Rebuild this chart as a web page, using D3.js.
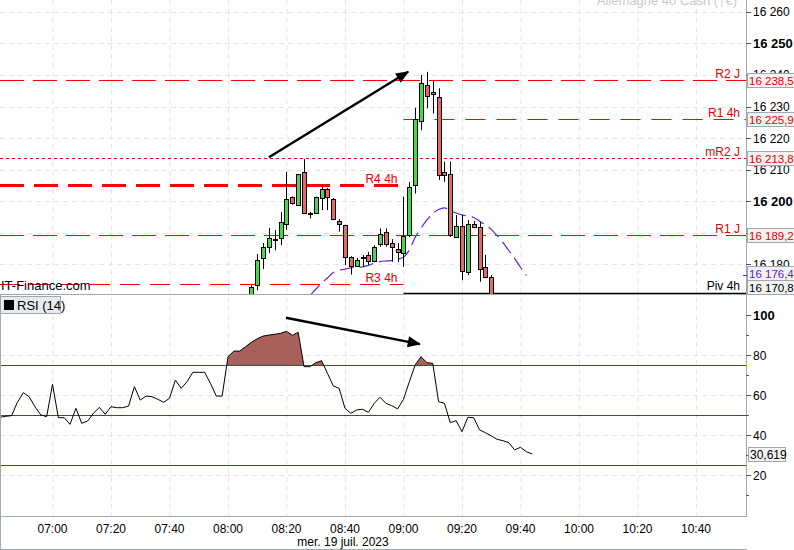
<!DOCTYPE html>
<html>
<head>
<meta charset="utf-8">
<script src="https://cdn.jsdelivr.net/npm/d3@7"></script>
<style>
  html, body { margin: 0; padding: 0; background: #fff; }
  svg { display: block; font-family: "Liberation Sans", Arial, sans-serif; }
</style>
</head>
<body>
<svg id="chart" width="794" height="550"></svg>
<script>
// --- data ---
const day = (h, m) => new Date(2023, 6, 19, h, m);

// 2-minute candles, first one at 08:08 (earlier ones sit below the visible range)
const candleStart = day(8, 8);
const candleOpen  = [16168.0,16173.3,16181.9,16185.4,16188.0,16188.2,16192.7,16201.2,16198.7,16209.1,
                     16196.2,16196.1,16201.2,16203.7,16200.5,16193.7,16192.3,16182.1,16179.4,16182.2,
                     16182.8,16181.1,16186.3,16190.1,16186.6,16184.8,16183.7,16189.2,16205.1,16225.2,
                     16236.8,16234.5,16233.1,16209.1,16208.5,16188.7,16192.2,16177.6,16192.6,16191.8,
                     16179.1,16175.8];
const candleHigh  = [16173.3,16183.2,16186.7,16191.5,16190.8,16196.5,16209.3,16201.5,16208.6,16213.3,
                     16196.6,16201.4,16204.4,16204.1,16201.0,16194.3,16192.5,16182.5,16181.9,16182.9,
                     16183.9,16186.0,16191.3,16191.3,16187.9,16186.7,16201.4,16206.0,16229.6,16240.0,
                     16241.0,16238.1,16235.8,16212.5,16212.5,16195.6,16195.6,16194.0,16193.7,16193.4,
                     16182.9,16176.5];
const candleLow   = [16166.0,16171.7,16178.4,16183.5,16184.4,16186.0,16190.8,16198.8,16198.5,16196.0,
                     16194.5,16195.9,16197.1,16197.1,16194.0,16190.3,16179.7,16176.7,16179.2,16179.1,
                     16179.7,16180.6,16185.5,16185.5,16180.7,16180.7,16179.1,16188.6,16202.4,16222.5,
                     16229.4,16227.8,16206.7,16206.1,16188.6,16188.4,16174.9,16176.5,16191.4,16174.4,
                     16175.5,16165.0];
const candleClose = [16172.6,16181.3,16185.5,16188.3,16187.9,16193.2,16200.5,16199.3,16208.5,16196.1,
                     16196.1,16201.2,16203.9,16201.2,16194.2,16192.7,16182.1,16179.4,16181.3,16182.1,
                     16181.0,16185.5,16189.5,16186.3,16185.3,16183.7,16189.0,16204.5,16226.0,16237.4,
                     16233.3,16233.9,16208.5,16208.3,16189.0,16192.2,16177.9,16192.7,16191.6,16178.6,
                     16176.0,16168.0];

// purple moving average, one point per candle from 08:28
const maStart = day(8, 28);
const maValues = [16170.0,16172.0,16174.0,16175.6,16177.3,16178.0,16178.4,16178.8,16179.0,16179.1,
                  16179.6,16180.3,16180.8,16181.0,16181.1,16181.6,16182.2,16184.5,16188.5,16191.4,
                  16194.0,16196.0,16197.3,16197.8,16197.0,16196.2,16195.6,16195.2,16194.8,16193.6,
                  16192.4,16191.0,16189.0,16186.8,16184.3,16181.8,16179.0,16176.4];

// RSI (14), every 2 minutes from 06:42
const rsiStart = day(6, 42);
const rsiValues = [49.0,49.5,49.8,56.5,61.3,59.3,54.3,50.2,49.3,65.5,
                   48.8,48.8,45.5,53.5,46.0,47.1,51.0,54.0,50.5,54.3,
                   53.8,53.8,54.6,64.3,57.6,59.6,59.3,58.0,56.5,58.5,
                   67.6,63.5,66.8,71.5,71.5,71.5,66.0,59.6,59.6,79.3,
                   82.1,82.1,84.3,86.5,88.3,89.6,90.1,90.5,91.0,92.0,
                   90.0,91.5,74.3,74.3,76.3,77.3,71.0,64.7,63.5,53.5,
                   51.0,52.7,53.0,51.5,56.0,59.0,56.0,54.8,53.2,58.0,
                   66.8,75.2,79.3,76.3,76.0,56.8,56.0,46.3,47.3,41.8,
                   49.0,48.8,42.7,41.3,39.7,38.0,37.3,36.3,32.7,34.0,
                   31.8,30.619];
const rsiLevels = [75, 50, 25];

// pivot levels (null = pane edge)
const levelNames  = ['R2 J', 'R1 4h', 'mR2 J', 'R4 4h', 'R1 J', 'R3 4h', 'Piv 4h'];
const levelValues = [16238.5, 16225.9, 16213.8, 16205.0, 16189.2, 16173.6, 16170.8];
const levelFrom   = [null, day(9, 0), null, null, null, null, day(9, 0)];
const levelTo     = [null, null, null, day(9, 0), null, day(9, 0), null];

const priceTicks = d3.range(16170, 16261, 10);
const rsiTicks = d3.range(10, 101, 10);
const dateLabel = 'mer. 19 juil. 2023';
const title = 'Allemagne 40 Cash (†€)';

// --- layout ---
const axisX = 746;
const priceBottom = 294;
const rsiTop = 295, rsiBottom = 516;
const STEP = 2 * 60000;
const grey = '#a0a8b0';

const t0 = +day(7, 0);
const x = d3.scaleTime()
  .domain([new Date(t0 - 17.95 * 60000), new Date(t0 + 237.1 * 60000)])
  .range([0, axisX]);
const yP = d3.scaleLinear().domain([16170.5, 16263.8]).range([priceBottom, 0]);
const yR = d3.scaleLinear().domain([0, 110]).range([515.3, 295.3]);

const svg = d3.select('#chart');
const fmtPrice = v => d3.format(',.1f')(v).replace(',', ' ').replace('.', ',');
const fmtTick = v => d3.format(',')(v).replace(',', ' ');

const defs = svg.append('defs');
defs.append('clipPath').attr('id', 'clipP')
  .append('rect').attr('x', 0).attr('y', 0).attr('width', axisX).attr('height', priceBottom);
defs.append('clipPath').attr('id', 'clipR')
  .append('rect').attr('x', 0).attr('y', rsiTop).attr('width', axisX).attr('height', rsiBottom - rsiTop);
defs.append('clipPath').attr('id', 'clipOB')
  .append('rect').attr('x', 0).attr('y', rsiTop).attr('width', axisX).attr('height', yR(75) - rsiTop);
defs.append('marker').attr('id', 'arrow')
  .attr('viewBox', '0 0 12 10').attr('refX', 11).attr('refY', 5)
  .attr('markerWidth', 14).attr('markerHeight', 11).attr('markerUnits', 'userSpaceOnUse')
  .attr('orient', 'auto')
  .append('path').attr('d', 'M0,0 L12,5 L0,10 Z').attr('fill', '#000');

// --- grid ---
const timeTicks = x.ticks(d3.timeMinute.every(20));
svg.append('g').selectAll('line').data(timeTicks).enter().append('line')
  .attr('x1', d => x(d) + 0.5).attr('x2', d => x(d) + 0.5)
  .attr('y1', 0).attr('y2', rsiBottom)
  .attr('stroke', '#e4e4e4').attr('stroke-dasharray', '5,4');
svg.append('g').selectAll('line').data(priceTicks.filter(v => v > 16170)).enter().append('line')
  .attr('x1', 0).attr('x2', axisX)
  .attr('y1', d => Math.round(yP(d)) + 0.5).attr('y2', d => Math.round(yP(d)) + 0.5)
  .attr('stroke', '#e4e4e4').attr('stroke-dasharray', '5,4');
svg.append('g').selectAll('line').data([20, 40, 60, 80]).enter().append('line')
  .attr('x1', 0).attr('x2', axisX)
  .attr('y1', d => Math.round(yR(d)) + 0.5).attr('y2', d => Math.round(yR(d)) + 0.5)
  .attr('stroke', '#e4e4e4').attr('stroke-dasharray', '5,4');

// --- price pane ---
const gP = svg.append('g').attr('clip-path', 'url(#clipP)');

const levelStyle = {
  'R2 J':   { color: '#ff0000', width: 1,   dash: '24,9' },
  'R1 4h':  { color: '#ff0000', width: 1,   dash: '20,11' },
  'mR2 J':  { color: '#ff0000', width: 1,   dash: '3,3' },
  'R4 4h':  { color: '#ff0000', width: 3,   dash: '24,10' },
  'R1 J':   { color: '#ff0000', width: 1,   dash: '24,9' },
  'R3 4h':  { color: '#ff0000', width: 1,   dash: '20,10' },
  'Piv 4h': { color: '#000000', width: 1.5, dash: null }
};
const levels = levelNames.map((n, i) => ({
  name: n, value: levelValues[i],
  x1: levelFrom[i] ? x(levelFrom[i]) : 0,
  x2: levelTo[i] ? x(levelTo[i]) : axisX
}));
gP.append('g').selectAll('line').data(levels).enter().append('line')
  .attr('x1', d => d.x1).attr('x2', d => d.x2)
  .attr('y1', d => Math.round(yP(d.value)) + 0.5).attr('y2', d => Math.round(yP(d.value)) + 0.5)
  .attr('stroke', d => levelStyle[d.name].color)
  .attr('stroke-width', d => levelStyle[d.name].width)
  .attr('stroke-dasharray', d => levelStyle[d.name].dash);
gP.append('g').selectAll('text').data(levels).enter().append('text')
  .attr('x', d => d.x2 - 6)
  .attr('y', d => Math.min(Math.round(yP(d.value)) - 2, priceBottom - 4))
  .attr('text-anchor', 'end').attr('font-size', 12)
  .attr('fill', d => d.name === 'Piv 4h' ? '#000' : '#e00000')
  .text(d => d.name);

// moving average
const maPts = maValues.map((v, i) => [new Date(+maStart + i * STEP), v]);
gP.append('path').datum(maPts)
  .attr('d', d3.line().x(d => x(d[0])).y(d => yP(d[1])).curve(d3.curveMonotoneX))
  .attr('fill', 'none').attr('stroke', '#6420d0').attr('stroke-width', 1.2)
  .attr('stroke-dasharray', '14,6');

// candles
const candles = candleOpen.map((o, i) => ({
  t: new Date(+candleStart + i * STEP), o, h: candleHigh[i], l: candleLow[i], c: candleClose[i]
}));
const cg = gP.append('g').selectAll('g').data(candles).enter().append('g');
cg.append('line')
  .attr('x1', d => Math.round(x(d.t)) + 0.5).attr('x2', d => Math.round(x(d.t)) + 0.5)
  .attr('y1', d => yP(d.h)).attr('y2', d => yP(d.l))
  .attr('stroke', '#000');
cg.append('rect')
  .attr('x', d => Math.round(x(d.t)) - 2 + 0.5)
  .attr('width', 4)
  .attr('y', d => Math.round(yP(Math.max(d.o, d.c))) + 0.5)
  .attr('height', d => Math.max(1, Math.round(Math.abs(yP(d.o) - yP(d.c)))))
  .attr('fill', d => Math.abs(d.o - d.c) < 0.2 ? '#000' : (d.c > d.o ? '#4cd44c' : '#e06a6a'))
  .attr('stroke', '#000').attr('stroke-width', 1);

// arrow in the price pane
svg.append('line')
  .attr('x1', x(day(8, 14))).attr('y1', yP(16213.9))
  .attr('x2', x(new Date(+day(9, 1) + 36000))).attr('y2', yP(16241.0))
  .attr('stroke', '#000').attr('stroke-width', 2.4).attr('marker-end', 'url(#arrow)');

svg.append('text').attr('x', 1).attr('y', 290).attr('font-size', 13).attr('fill', '#000')
  .text('IT-Finance.com');
svg.append('text').attr('x', 737).attr('y', 5).attr('text-anchor', 'end')
  .attr('font-size', 13).attr('fill', '#c8c8c8').text(title);

// --- RSI pane ---
const gR = svg.append('g').attr('clip-path', 'url(#clipR)');
const rsiPts = rsiValues.map((v, i) => [new Date(+rsiStart + i * STEP), v]);
gR.append('path').datum(rsiPts)
  .attr('clip-path', 'url(#clipOB)')
  .attr('d', d3.area().x(d => x(d[0])).y0(yR(75)).y1(d => yR(d[1])))
  .attr('fill', '#a8605c');
gR.append('g').selectAll('line').data(rsiLevels).enter().append('line')
  .attr('x1', 0).attr('x2', axisX)
  .attr('y1', d => Math.round(yR(d)) + 0.5).attr('y2', d => Math.round(yR(d)) + 0.5)
  .attr('stroke', '#3a3ab8').attr('stroke-width', 1.2);
gR.append('path').datum(rsiPts)
  .attr('d', d3.line().x(d => x(d[0])).y(d => yR(d[1])))
  .attr('fill', 'none').attr('stroke', '#000').attr('stroke-width', 1);

svg.append('line')
  .attr('x1', x(new Date(+day(8, 19) + 48000))).attr('y1', yR(98.8))
  .attr('x2', x(new Date(+day(9, 5) + 36000))).attr('y2', yR(85.6))
  .attr('stroke', '#000').attr('stroke-width', 2.4).attr('marker-end', 'url(#arrow)');

const leg = svg.append('g');
leg.append('rect').attr('x', 0.5).attr('y', 296.5).attr('width', 60).attr('height', 17)
  .attr('fill', '#e6ebef').attr('stroke', grey);
leg.append('rect').attr('x', 4).attr('y', 300).attr('width', 10).attr('height', 10).attr('fill', '#000');
leg.append('text').attr('x', 17).attr('y', 310).attr('font-size', 13).text('RSI (14)');

// --- frames ---
const frame = svg.append('g').attr('stroke', grey).attr('fill', 'none');
frame.append('line').attr('x1', 0).attr('x2', axisX).attr('y1', priceBottom + 0.5).attr('y2', priceBottom + 0.5);
frame.append('line').attr('x1', 0).attr('x2', axisX).attr('y1', rsiBottom + 0.5).attr('y2', rsiBottom + 0.5);
frame.append('line').attr('x1', axisX + 0.5).attr('x2', axisX + 0.5).attr('y1', 0).attr('y2', rsiBottom + 1);
frame.append('line').attr('x1', 0.5).attr('x2', 0.5).attr('y1', priceBottom).attr('y2', 550);
frame.append('line').attr('x1', 0).attr('x2', axisX + 1).attr('y1', 549.5).attr('y2', 549.5);

// --- right axes ---
const shownTicks = priceTicks.filter(v => v >= yP.domain()[0]);
const pa = svg.append('g');
pa.selectAll('line').data(shownTicks).enter().append('line')
  .attr('x1', axisX).attr('x2', axisX + 5)
  .attr('y1', d => Math.round(yP(d)) + 0.5).attr('y2', d => Math.round(yP(d)) + 0.5)
  .attr('stroke', '#555');
pa.selectAll('text').data(shownTicks).enter().append('text')
  .attr('x', axisX + 7).attr('y', d => yP(d) + 4.5)
  .attr('font-size', d => d % 50 === 0 ? 13 : 12)
  .attr('font-weight', d => d % 50 === 0 ? 'bold' : 'normal')
  .text(d => fmtTick(d));

const ra = svg.append('g');
ra.selectAll('line').data(rsiTicks).enter().append('line')
  .attr('x1', axisX).attr('x2', d => axisX + (d % 20 === 0 ? 5 : 3))
  .attr('y1', d => Math.round(yR(d)) + 0.5).attr('y2', d => Math.round(yR(d)) + 0.5)
  .attr('stroke', '#555');
ra.selectAll('text').data(rsiTicks.filter(d => d % 20 === 0)).enter().append('text')
  .attr('x', axisX + 7).attr('y', d => yR(d) + 4.5)
  .attr('font-size', d => d === 100 ? 13 : 12)
  .attr('font-weight', d => d === 100 ? 'bold' : 'normal')
  .text(d => d);

// value boxes on the price axis
const boxes = [
  { v: levelValues[0], color: '#e00000' },
  { v: levelValues[1], color: '#e00000' },
  { v: levelValues[2], color: '#e00000' },
  { v: levelValues[4], color: '#e00000' },
  { v: maValues[maValues.length - 1], color: '#6420d0', tick: true },
  { v: levelValues[6], color: '#000' }
];
const bh = 14;
boxes.forEach(b => { b.cy = Math.min(yP(b.v), priceBottom - bh / 2); });
for (let i = boxes.length - 2; i >= 0; i--) {
  if (boxes[i + 1].cy - boxes[i].cy < bh) boxes[i].cy = boxes[i + 1].cy - bh;
}
const bg = svg.append('g').selectAll('g').data(boxes).enter().append('g');
bg.filter(d => d.tick).append('line')
  .attr('x1', axisX - 3).attr('x2', axisX + 2)
  .attr('y1', d => Math.round(yP(d.v)) + 0.5).attr('y2', d => Math.round(yP(d.v)) + 0.5)
  .attr('stroke', d => d.color);
bg.append('rect')
  .attr('x', axisX + 1.5).attr('y', d => Math.round(d.cy - bh / 2) + 0.5)
  .attr('width', 50).attr('height', bh)
  .attr('fill', '#f2f2f2').attr('stroke', grey);
bg.append('text')
  .attr('x', axisX + 3).attr('y', d => Math.round(d.cy) + 4.5)
  .attr('font-size', 11.5).attr('fill', d => d.color)
  .text(d => fmtPrice(d.v));

// RSI value box
const lastR = rsiValues[rsiValues.length - 1];
svg.append('rect').attr('x', axisX + 2.5).attr('y', Math.round(yR(lastR) - 7) + 0.5)
  .attr('width', 37).attr('height', 14).attr('fill', '#f2f2f2').attr('stroke', grey);
svg.append('text').attr('x', axisX + 4).attr('y', Math.round(yR(lastR)) + 5)
  .attr('font-size', 12).text(d3.format('.3f')(lastR).replace('.', ','));

// --- time axis ---
svg.append('g').selectAll('text').data(timeTicks).enter().append('text')
  .attr('x', d => x(d)).attr('y', 533)
  .attr('text-anchor', 'middle')
  .attr('font-family', '"Liberation Sans Narrow", "Liberation Sans", Arial, sans-serif')
  .attr('font-size', 12)
  .text(d => d3.timeFormat('%H:%M')(d));
svg.append('text').attr('x', 343).attr('y', 546).attr('text-anchor', 'middle')
  .attr('font-family', '"Liberation Sans Narrow", "Liberation Sans", Arial, sans-serif')
  .attr('font-size', 12).text(dateLabel);
</script>
</body>
</html>
